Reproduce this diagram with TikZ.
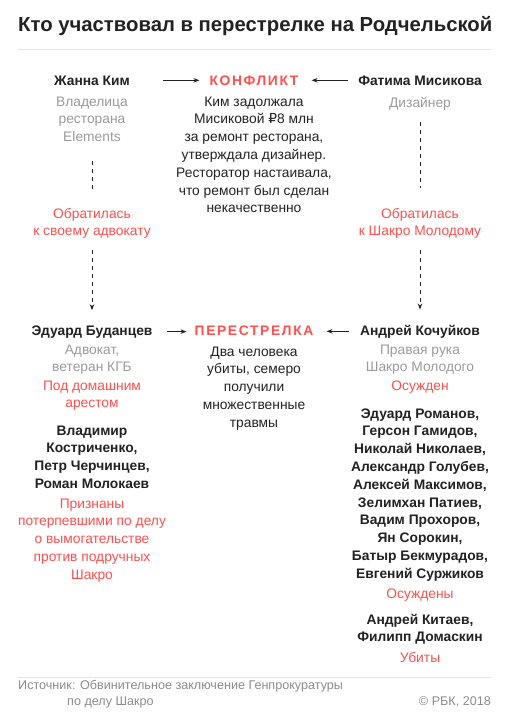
\documentclass[tikz,border=0pt]{standalone}
\usepackage{fontspec}
\setmainfont{Liberation Sans}
\newfontfamily\rubfont{DejaVu Sans}
\usetikzlibrary{arrows.meta,positioning}
\definecolor{ink}{HTML}{222222}
\definecolor{muted}{HTML}{9B9B9B}
\definecolor{alarm}{HTML}{FF4F4F}
\definecolor{rulegray}{HTML}{E6E6E6}
\definecolor{footgray}{HTML}{8C8C8C}

\begin{document}
\begin{tikzpicture}[x=1pt, y=-1pt,
    who/.style={font=\bfseries\fontsize{13.8}{17.8}\selectfont, text=ink, align=center, inner sep=0pt, anchor=base},
    role/.style={font=\fontsize{13.8}{17.8}\selectfont, text=muted, align=center, inner sep=0pt, anchor=base},
    note/.style={role, text=alarm},
    story/.style={role, text=ink},
    event/.style={font=\bfseries\fontsize{13.8}{17.8}\selectfont\addfontfeature{LetterSpace=12}, text=alarm, inner sep=0pt, anchor=base},
    arr/.style={-{Stealth[length=6pt,width=4.5pt]}, line width=0.9pt, draw=ink},
    lnk/.style={draw=ink, line width=0.8pt, dash pattern=on 4pt off 4pt},
    foot/.style={font=\fontsize{12.6}{16}\selectfont, text=footgray, inner sep=0pt}
]
\useasboundingbox[fill=white] (0,0) rectangle (509,725);

% title (multi-line nodes sit on the baseline of their last line)
\node[font=\bfseries\fontsize{20.3}{22}\selectfont, text=ink, anchor=base west, inner sep=0pt] (title) at (18,32) {Кто участвовал в перестрелке на Родчельской};
\draw[rulegray, line width=0.8pt] (18,49) -- (491,49);

% left column
\node[who] (kim) at (92,85) {Жанна Ким};
\node[role] (kimrole) at (92,141.6) {Владелица\\ресторана\\Elements};
\node[note] (ask1) at (92,235.8) {Обратилась\\к своему адвокату};
\node[who] (budantsev) at (92,335) {Эдуард Буданцев};
\node[role] (budrole) at (92,371.8) {Адвокат,\\ветеран КГБ};
\node[note] (arrest) at (92,407.8) {Под домашним\\арестом};
\node[who] (victims) at (92,488.4) {Владимир\\Костриченко,\\Петр Черчинцев,\\Роман Молокаев};
\node[note] (victimsnote) at (92,579.2) {Признаны\\потерпевшими по делу\\о вымогательстве\\против подручных\\Шакро};

% middle column
\node[event] (conflict) at (254,85) {КОНФЛИКТ};
\node[story] (conflictstory) at (254,212.8) {Ким задолжала\\Мисиковой {\rubfont ₽}8 млн\\за ремонт ресторана,\\утверждала дизайнер.\\Ресторатор настаивала,\\что ремонт был сделан\\некачественно};
\node[event] (shootout) at (254,335) {ПЕРЕСТРЕЛКА};
\node[story] (shootstory) at (254,427.2) {Два человека\\убиты, семеро\\получили\\множественные\\травмы};

% right column
\node[who] (fatima) at (420,85) {Фатима Мисикова};
\node[role] (fatrole) at (420,107) {Дизайнер};
\node[note] (ask2) at (420,235.8) {Обратилась\\к Шакро Молодому};
\node[who] (kochuykov) at (420,335) {Андрей Кочуйков};
\node[role] (kochrole) at (420,371.8) {Правая рука\\Шакро Молодого};
\node[note] (kochnote) at (420,390) {Осужден};
\node[who] (convicts) at (420,578.2) {Эдуард Романов,\\Герсон Гамидов,\\Николай Николаев,\\Александр Голубев,\\Алексей Максимов,\\Зелимхан Патиев,\\Вадим Прохоров,\\Ян Сорокин,\\Батыр Бекмурадов,\\Евгений Суржиков};
\node[note] (convictsnote) at (420,598) {Осуждены};
\node[who] (killed) at (420,641.8) {Андрей Китаев,\\Филипп Домаскин};
\node[note] (killednote) at (420,662) {Убиты};

% connectors
\draw[arr, shorten <=33pt, shorten >=10pt] (kim.east) -- (kim.east -| conflict.west);
\draw[arr, shorten <=10pt, shorten >=13pt] (fatima.west) -- (fatima.west -| conflict.east);
\draw[arr, shorten <=14pt, shorten >=8pt] (budantsev.east) -- (budantsev.east -| shootout.west);
\draw[arr, shorten <=11pt, shorten >=13pt] (kochuykov.west) -- (kochuykov.west -| shootout.east);
\draw[lnk, shorten <=19pt, shorten >=15pt] (kimrole.south) -- (ask1.north);
\draw[lnk, arr, shorten <=11pt, shorten >=15pt] (ask1.south) -- (budantsev.north);
\draw[lnk, shorten <=12pt, shorten >=20pt] (fatrole.south) -- (ask2.north);
\draw[lnk, arr, shorten <=11pt, shorten >=15pt] (ask2.south) -- (kochuykov.north);

% footer
\draw[rulegray, line width=0.8pt] (18,677) -- (491,677);
\node[foot, align=left, anchor=base west] (source) at (18,705) {Источник: Обвинительное заключение Генпрокуратуры\\\hspace*{49pt}по делу Шакро};
\node[foot, anchor=base east] (credit) at (491,705) {© РБК, 2018};
\end{tikzpicture}
\end{document}
